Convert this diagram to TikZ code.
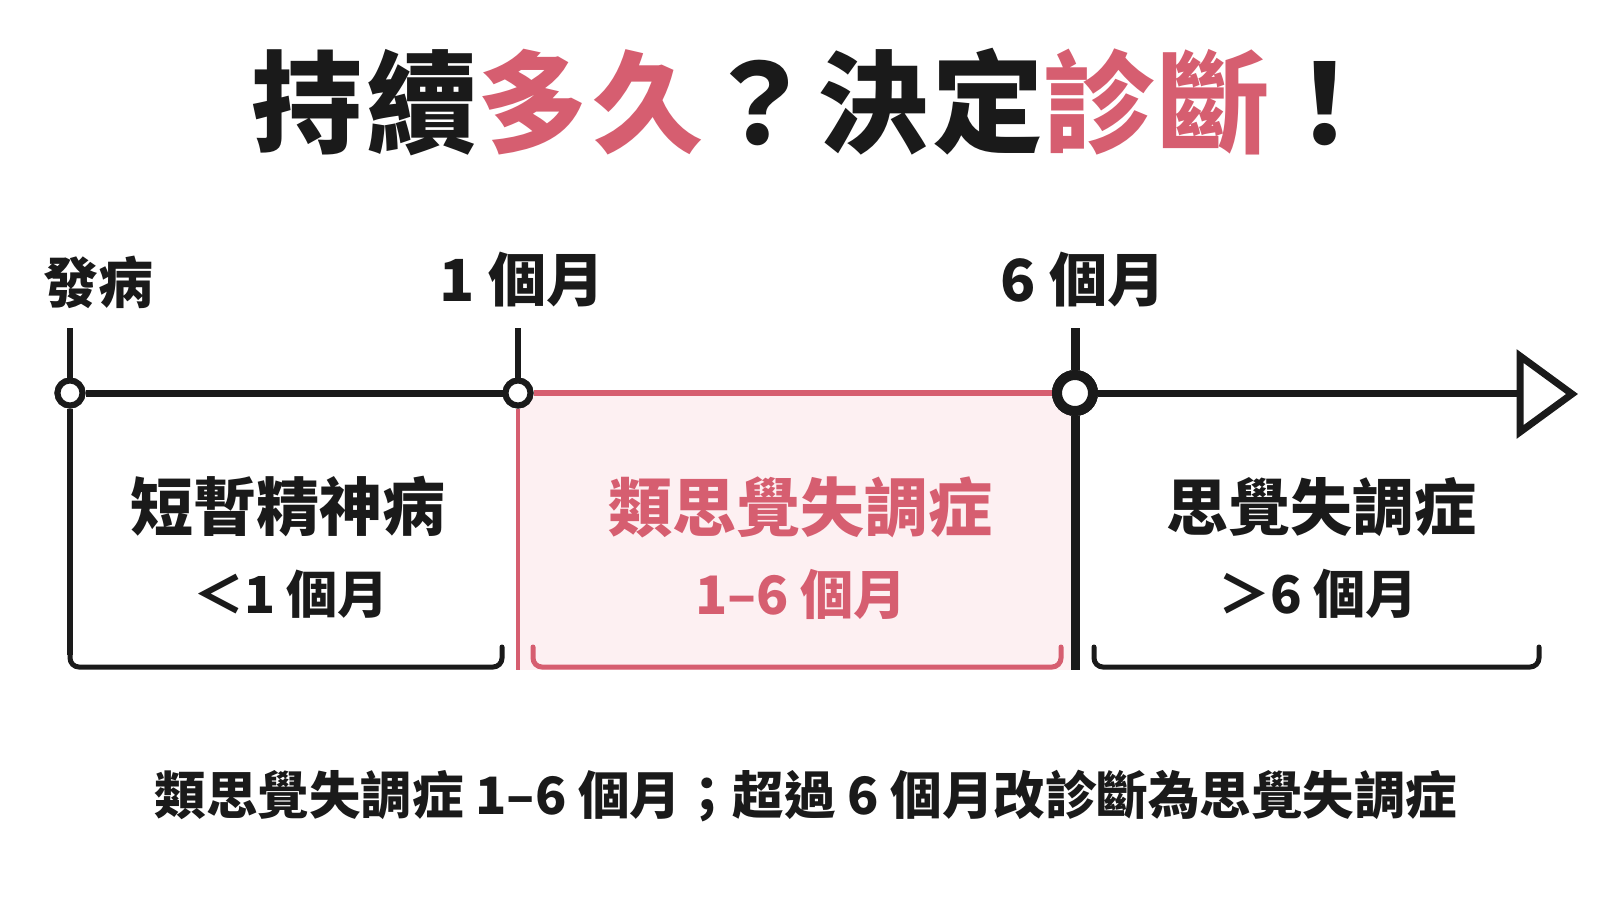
\documentclass[tikz,border=0pt]{standalone}
\usepackage{fontspec}
\newfontfamily\cjk{Noto Sans CJK TC}
\definecolor{pk}{HTML}{D65E70}
\definecolor{pkfill}{HTML}{FDF0F2}
\definecolor{ink}{HTML}{1A1A1A}
\tikzset{
  txt/.style={inner sep=0pt, text=ink, font=\cjk\bfseries\fontsize{#1}{#1}\selectfont},
  dot/.style={circle, draw=ink, fill=white, line width=6pt, minimum size=25pt, inner sep=0pt},
  bigdot/.style={circle, draw=ink, fill=white, line width=10pt, minimum size=36pt, inner sep=0pt},
  axis/.style={draw=ink, line width=7pt},
  tickline/.style={draw=ink, line width=5.5pt},
  bracket/.style={draw=ink, line width=5pt, rounded corners=9pt, line cap=round},
  pbracket/.style={draw=pk, line width=5pt, rounded corners=9pt, line cap=round},
}
\begin{document}
\begin{tikzpicture}[x=1pt,y=-1pt]
\useasboundingbox[fill=white] (0,0) rectangle (1600,900);

% title
\node[txt=111] (title) at (816,102) {\addfontfeature{LetterSpace=3.5}持續\textcolor{pk}{多久}？決定\textcolor{pk}{診斷}！};

% pink band
\fill[pkfill] (518,393) rectangle (1075,670);

% coordinates
\coordinate (t1) at (70,328);
\coordinate (t2) at (518,328);
\coordinate (t3) at (1075,328);
\coordinate (b1) at (70,655);
\coordinate (p2) at (518,670);
\coordinate (b3) at (1075,670);
\coordinate (aback) at (1522,393);

% circles (placed as nodes for connector clipping)
\node[dot] (c1) at (70,393) {};
\node[dot] (c2) at (518,393) {};
\node[bigdot] (c3) at (1075,393) {};

% lines
\draw[tickline] (t1) -- (c1);
\draw[tickline] (t2) -- (c2);
\draw[ink, line width=9pt] (t3) -- (c3);
\draw[ink, line width=9pt] (c3) -- (b3);
\draw[tickline] (c1) -- (b1);
\draw[pk, line width=4pt] (c2) -- (p2);
\draw[axis] (c1) -- (c2);
\draw[pk, line width=6pt] (c2) -- (c3);
\draw[axis] (c3) -- (aback);
\draw[ink, line width=7pt, fill=white, line join=miter] (1520,356) -- (1572,394) -- (1520,432) -- cycle;

% redraw circles on top
\node[dot] at (c1) {};
\node[dot] at (c2) {};
\node[bigdot] at (c3) {};

% brackets
\draw[bracket] (70,647) -- (70,667) -- (502,667) -- (502,647);
\draw[pbracket] (533,647) -- (533,667) -- (1061,667) -- (1061,647);
\draw[bracket] (1094,647) -- (1094,667) -- (1539,667) -- (1539,647);

% labels
\node[txt=55] (lonset) at (98,282) {發病};
\node[txt=58] (lone) at (522,280) {1 個月};
\node[txt=58] (lsix) at (1083,280) {6 個月};

% box texts
\node[txt=63] (n1a) at (288,507) {短暫精神病};
\node[txt=51] (n1b) at (291,594) {＜1 個月};
\node[txt=64] (n2a) [text=pk] at (800,507) {類思覺失調症};
\node[txt=53] (n2b) [text=pk] at (801,594) {1–6 個月};
\node[txt=62] (n3a) at (1321,507) {思覺失調症};
\node[txt=52] (n3b) at (1318,594) {＞6 個月};

% caption
\node[txt=51.5] (cap) at (806,796) {類思覺失調症 1–6 個月；超過 6 個月改診斷為思覺失調症};
\end{tikzpicture}
\end{document}
